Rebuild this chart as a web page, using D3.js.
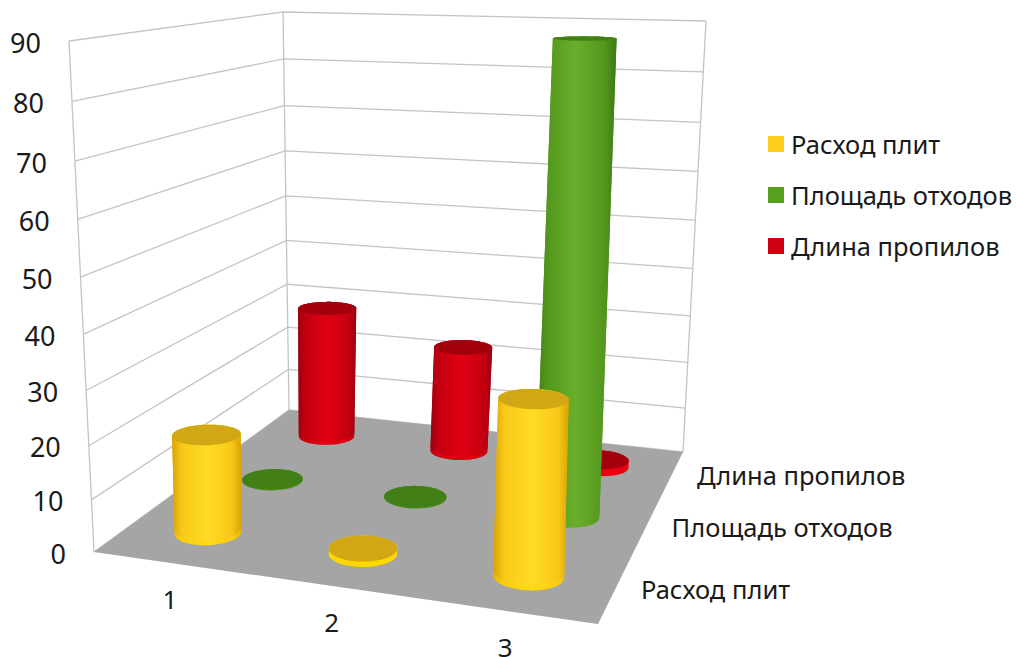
<!DOCTYPE html>
<html lang="ru">
<head>
<meta charset="utf-8">
<script src="https://cdn.jsdelivr.net/npm/d3@7"></script>
<style>
  html, body { margin: 0; padding: 0; background: #fff; }
  svg { display: block; }
  text { font-family: "Noto Sans", sans-serif; fill: #1a1a1a; }
</style>
</head>
<body>
<svg id="chart" width="1016" height="657"></svg>
<script>
// Chart data
const categories = ["1", "2", "3"];
const seriesNames = ["Расход плит", "Площадь отходов", "Длина пропилов"];
const raskhodPlit = [19, 1, 31.5];
const ploshchadOtkhodov = [0.2, 0.2, 89];
const dlinaPropilov = [29, 23, 1.5];
const valueTicks = [0, 10, 20, 30, 40, 50, 60, 70, 80, 90];

// Perspective spacing of the value axis, as a share of the wall height
const wallStops = [0, 0.102, 0.208, 0.316, 0.426, 0.538, 0.651, 0.765, 0.882, 1];

const seriesValues = [raskhodPlit, ploshchadOtkhodov, dlinaPropilov];
const seriesColors = [
  { edge: "#d9a308", mid: "#f8c818", light: "#ffdc24", top: "#d2a716", lip: "#ffd800", lipAlpha: 0.45, swatch: "#fccf1c" },
  { edge: "#3b7812", mid: "#53961d", light: "#69af2a", top: "#437f17", lip: "#4f9019", lipAlpha: 0, swatch: "#55a01c" },
  { edge: "#9c000e", mid: "#c40010", light: "#e00012", top: "#a3000e", lip: "#ee0010", lipAlpha: 0.45, swatch: "#cc0010" }
];

// Projective map from the unit square onto a screen quadrilateral
function quadMap([p00, p10, p11, p01]) {
  const dx1 = p10[0] - p11[0], dx2 = p01[0] - p11[0], sx = p00[0] - p10[0] + p11[0] - p01[0];
  const dy1 = p10[1] - p11[1], dy2 = p01[1] - p11[1], sy = p00[1] - p10[1] + p11[1] - p01[1];
  const den = dx1 * dy2 - dx2 * dy1;
  const g = (sx * dy2 - dx2 * sy) / den;
  const h = (dx1 * sy - sx * dy1) / den;
  const a = p10[0] - p00[0] + g * p10[0], b = p01[0] - p00[0] + h * p01[0];
  const d = p10[1] - p00[1] + g * p10[1], e = p01[1] - p00[1] + h * p01[1];
  return (u, v) => {
    const w = g * u + h * v + 1;
    return [(a * u + b * v + p00[0]) / w, (d * u + e * v + p00[1]) / w];
  };
}

const floorMap = quadMap([[94, 552], [598, 624], [683, 452], [289, 410]]);
const ceilingMap = quadMap([[69, 41], [606, 51], [706, 21], [283, 12]]);

// Scales: category across the floor, series into the depth, value up the walls
const uScale = d3.scaleBand().domain(categories).range([0, 1]);
const vScale = d3.scaleBand().domain(seriesNames).range([0, 1]);
const heightScale = d3.scaleLinear().domain(valueTicks).range(wallStops);

function project(u, v, value) {
  const f = floorMap(u, v), c = ceilingMap(u, v), t = heightScale(value);
  return [f[0] + (c[0] - f[0]) * t, f[1] + (c[1] - f[1]) * t];
}

const svg = d3.select("#chart");
const defs = svg.append("defs");
const linePath = d3.line();

// Walls and gridlines
const walls = svg.append("g");
walls.append("rect").attr("width", 1016).attr("height", 657).attr("fill", "#fff");
valueTicks.forEach(t => {
  walls.append("path")
    .attr("d", linePath([project(0, 0, t), project(0, 1, t), project(1, 1, t)]))
    .attr("fill", "none").attr("stroke", "#c4c4c4").attr("stroke-width", 1.3);
});
[[0, 0], [0, 1], [1, 1]].forEach(([u, v]) => {
  walls.append("path")
    .attr("d", linePath([project(u, v, 0), project(u, v, 90)]))
    .attr("fill", "none").attr("stroke", "#c4c4c4").attr("stroke-width", 1.3);
});

// Floor
svg.append("path")
  .attr("d", linePath([project(0, 0, 0), project(1, 0, 0), project(1, 1, 0), project(0, 1, 0)]) + "Z")
  .attr("fill", "#a5a5a5");

// Shading across each column body
seriesColors.forEach((c, i) => {
  const grad = defs.append("linearGradient").attr("id", "body" + i)
    .attr("x1", 0).attr("x2", 1).attr("y1", 0).attr("y2", 0);
  [[0, c.edge], [0.14, c.mid], [0.5, c.light], [0.86, c.mid], [1, c.edge]].forEach(([o, col]) => {
    grad.append("stop").attr("offset", o).attr("stop-color", col);
  });
});

const RADIUS = 0.067;
const LIP = 0.8;
const angles = d3.range(0, 2 * Math.PI, Math.PI / 36);

function ring(u, v, value) {
  return angles.map(a => project(u + RADIUS * Math.cos(a), v + RADIUS * Math.sin(a), value));
}
function hull(u, v, v0, v1) {
  return d3.polygonHull(ring(u, v, v0).concat(ring(u, v, v1)));
}

// Columns, painted from the back row to the front row
const columns = svg.append("g");
d3.range(seriesNames.length).reverse().forEach(s => {
  const name = seriesNames[s], colors = seriesColors[s];
  const v = vScale(name) + vScale.bandwidth() / 2;
  categories.forEach((cat, i) => {
    const u = uScale(cat) + uScale.bandwidth() / 2;
    const value = seriesValues[s][i];
    const g = columns.append("g");
    if (value > 5) {
      // Tall column: shaded body with a faint bright rim at its foot
      g.append("path").attr("d", linePath(hull(u, v, 0, value)) + "Z").attr("fill", `url(#body${s})`);
      g.append("path").attr("d", linePath(hull(u, v, 0, LIP)) + "Z")
        .attr("fill", colors.lip).attr("opacity", colors.lipAlpha);
      g.append("path").attr("d", linePath(hull(u, v, LIP, value)) + "Z").attr("fill", `url(#body${s})`);
    } else {
      // Short disc: bright side under a darker top
      g.append("path").attr("d", linePath(hull(u, v, 0, value)) + "Z").attr("fill", colors.lip);
    }
    g.append("path").attr("d", linePath(ring(u, v, value)) + "Z").attr("fill", colors.top);
  });
});

// Value axis labels follow the left wall edge
const labels = svg.append("g");
valueTicks.forEach(t => {
  const p = project(0, 0, t);
  labels.append("text").attr("x", p[0] - 28).attr("y", p[1] + 1)
    .attr("text-anchor", "end").attr("dominant-baseline", "central")
    .attr("font-size", 27).text(t);
});

// Category labels below the front edge of the floor
categories.forEach(cat => {
  const p = project(uScale(cat) + uScale.bandwidth() / 2, 0, 0);
  labels.append("text").attr("x", p[0] - 1).attr("y", p[1] + 36)
    .attr("text-anchor", "middle").attr("dominant-baseline", "central")
    .attr("font-size", 26).text(cat);
});

// Series labels beside the right edge of the floor
seriesNames.forEach(name => {
  const p = project(1, vScale(name) + vScale.bandwidth() / 2, 0);
  labels.append("text").attr("x", p[0] + 25).attr("y", p[1] + 1)
    .attr("dominant-baseline", "central")
    .attr("font-size", 25.5).text(name);
});

// Legend
const legendY = d3.scalePoint().domain(seriesNames).range([144, 246]);
const legend = svg.append("g");
seriesNames.forEach((name, i) => {
  const y = legendY(name);
  legend.append("rect").attr("x", 768).attr("y", y - 8).attr("width", 16).attr("height", 16)
    .attr("fill", seriesColors[i].swatch);
  legend.append("text").attr("x", 791).attr("y", y)
    .attr("dominant-baseline", "central")
    .attr("font-size", 25.5).text(name);
});
</script>
</body>
</html>
